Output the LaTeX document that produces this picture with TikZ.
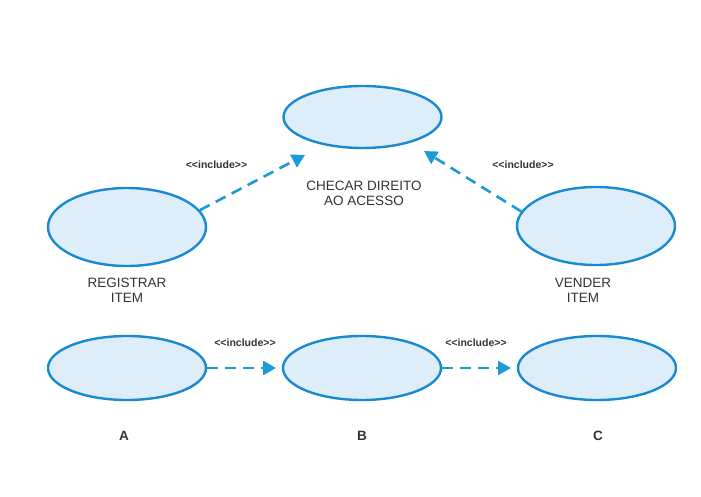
\documentclass[tikz,border=0pt]{standalone}
\usepackage{fontspec}
\setmainfont{Liberation Sans}[Ligatures=NoCommon]
\usetikzlibrary{shapes.geometric,arrows.meta}
\definecolor{ucline}{HTML}{1A8AD0}
\definecolor{ucfill}{HTML}{DDEDF9}
\definecolor{arrcol}{HTML}{1B9AD8}
\definecolor{txt}{HTML}{333333}
\newcommand{\inctxt}{{<}{<}include{>}{>}}
\begin{document}
\begin{tikzpicture}[x=1pt,y=-1pt,
  usecase/.style={ellipse,draw=ucline,fill=ucfill,line width=2.4pt,inner sep=0pt,minimum width=158pt},
  inc/.style={draw=arrcol,line width=2.6pt,dash pattern=on 11pt off 7pt,-{Triangle[length=13pt,width=14pt]}},
  inclbl/.style={font=\bfseries\fontsize{10.5}{12}\selectfont,text=txt},
  lbl/.style={font=\fontsize{13.5}{15}\selectfont,text=txt,align=center},
  letter/.style={font=\bfseries\fontsize{13.5}{14}\selectfont,text=txt}]
\useasboundingbox[fill=white] (0,0) rectangle (701,497);
% use cases
\node[usecase,minimum height=62pt] (chk) at (362.5,117) {};
\node[usecase,minimum height=78pt] (reg) at (127,227) {};
\node[usecase,minimum height=78pt] (ven) at (596,226) {};
\node[usecase,minimum height=64pt] (a) at (127,368) {};
\node[usecase,minimum height=64pt] (b) at (362,368) {};
\node[usecase,minimum height=64pt] (c) at (597,368) {};
% labels
\node[lbl] (chkl) at (364,193) {CHECAR DIREITO\\AO ACESSO};
\node[lbl] (regl) at (127,290) {REGISTRAR\\ITEM};
\node[lbl] (venl) at (583,290) {VENDER\\ITEM};
\node[letter] (al) at (124,436) {A};
\node[letter] (bl) at (362,436) {B};
\node[letter] (cl) at (598,436) {C};
\node[inclbl] (i1) at (216.5,165) {\inctxt};
\node[inclbl] (i2) at (523,165) {\inctxt};
\node[inclbl] (i3) at (245,343) {\inctxt};
\node[inclbl] (i4) at (476,343) {\inctxt};
% connectors
\coordinate (t1) at (305,155);
\coordinate (t2) at (424,151);
\draw[inc] (reg.13) -- (t1);
\draw[inc] (ven.169) -- (t2);
\coordinate (t3) at (276,368);
\coordinate (t4) at (511,368);
\draw[inc] (a.east) -- (t3);
\draw[inc] (b.east) -- (t4);
\end{tikzpicture}
\end{document}
